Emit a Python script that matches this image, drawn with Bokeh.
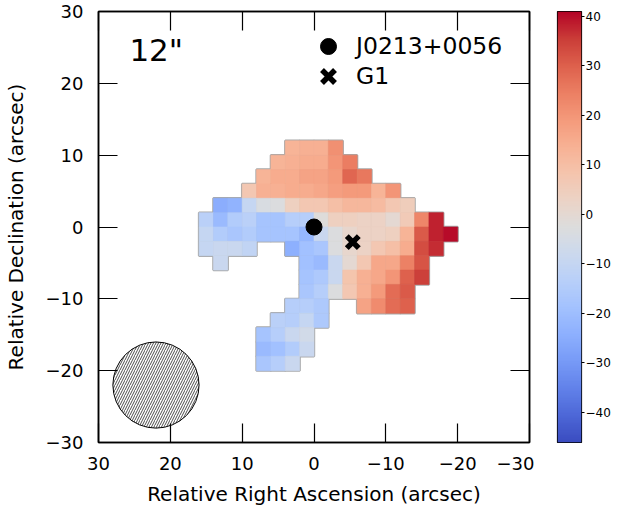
import numpy as np
from bokeh.plotting import figure
from bokeh.models import (Range1d, LinearAxis, FixedTicker, CustomJSTickFormatter,
                          LinearColorMapper, ColumnDataSource, Legend, LegendItem, Label)
from bokeh.layouts import row
from bokeh.transform import linear_cmap
from bokeh.embed import file_html
from bokeh.resources import INLINE

# ---------------- data ----------------
ra_centers = [15, 13, 11, 9, 7, 5, 3, 1, -1, -3, -5, -7, -9, -11, -13, -15, -17, -19]
dec_centers = [11, 9, 7, 5, 3, 1, -1, -3, -5, -7, -9, -11, -13, -15, -17, -19]
N = None
velocity = [
    [N, N, N, N, N, N, 13, 14, 14, 21, N, N, N, N, N, N, N, N],
    [N, N, N, N, N, 13, 14, 15, 15, 20, 25, N, N, N, N, N, N, N],
    [N, N, N, N, 13, 15, 15, 17, 17, 19, 29, 26, N, N, N, N, N, N],
    [N, N, N, 7, 14, 14, 15, 15, 16, 18, 19, 19, 13, 20, N, N, N, N],
    [N, -25, -23, -10, -4, -3, 4, 7, 7, 10, 12, 12, 11, 7, 5, N, N, N],
    [-13, -21, -15, -13, -18, -18, -14, -14, -2, 4, 4, 3, 3, 0, 6, 23, 38, N],
    [-10, -15, -17, -15, -18, -18, -18, -22, -9, -3, 1, 3, 3, 4, 13, 31, 38, 40],
    [-10, -9, -9, -11, N, N, -24, -19, -17, -3, 1, 3, 7, 10, 15, 33, 37, N],
    [N, -9, N, N, N, N, N, -19, -21, -9, 0, 7, 16, 16, 24, 32, N, N],
    [N, N, N, N, N, N, N, -18, -16, -9, 8, 14, 16, 20, 30, 35, N, N],
    [N, N, N, N, N, N, N, -17, -14, -3, 7, 14, 19, 28, 31, N, N, N],
    [N, N, N, N, N, N, -14, -14, -16, N, N, 17, 22, 28, 30, N, N, N],
    [N, N, N, N, N, -13, -14, -10, -16, N, N, N, N, N, N, N, N, N],
    [N, N, N, N, -18, -14, -9, -6, N, N, N, N, N, N, N, N, N, N],
    [N, N, N, N, -21, -19, -15, -9, N, N, N, N, N, N, N, N, N, N],
    [N, N, N, N, -17, -14, -9, N, N, N, N, N, N, N, N, N, N, N],
]
pixel_size = 2.0

source_name = "J0213+0056"
source_ra = [0.0]
source_dec = [0.0]
companion_name = "G1"
companion_ra = [-5.4]
companion_dec = [-2.1]

beam_label = '12"'
beam_ra = [22.0]
beam_dec = [-22.0]
beam_radius = 6.0

vel_min, vel_max = -46.1, 41.0
axis_ticks = [-30, -20, -10, 0, 10, 20, 30]
cbar_ticks = [-40, -30, -20, -10, 0, 10, 20, 30, 40]

# ---------------- colormap (matplotlib coolwarm anchors) ----------------
cw = [
    (0.2298, 0.2987, 0.7537), (0.3039, 0.4065, 0.8450), (0.3830, 0.5094, 0.9174),
    (0.4667, 0.6046, 0.9682), (0.5530, 0.6889, 0.9954), (0.6392, 0.7596, 0.9982),
    (0.7222, 0.8140, 0.9766), (0.7987, 0.8498, 0.9317), (0.8654, 0.8654, 0.8654),
    (0.9241, 0.8274, 0.7745), (0.9589, 0.7698, 0.6780), (0.9700, 0.6943, 0.5794),
    (0.9580, 0.6028, 0.4818), (0.9239, 0.4973, 0.3880), (0.8692, 0.3783, 0.3003),
    (0.7956, 0.2413, 0.2211), (0.7057, 0.0156, 0.1502),
]
cw = np.array(cw)
tk = np.linspace(0, 1, len(cw))
tt = np.linspace(0, 1, 256)
palette = []
for t in tt:
    r, g, b = (np.interp(t, tk, cw[:, i]) for i in range(3))
    palette.append("#%02x%02x%02x" % (int(round(r * 255)), int(round(g * 255)), int(round(b * 255))))

# ---------------- cells ----------------
xs, ys, vs = [], [], []
for j, dec in enumerate(dec_centers):
    for i, ra in enumerate(ra_centers):
        v = velocity[j][i]
        if v is not None:
            xs.append(ra)
            ys.append(dec)
            vs.append(v)
src = ColumnDataSource(dict(ra=xs, dec=ys, vel=vs))

FONT = "DejaVu Sans"
minus_fmt = CustomJSTickFormatter(code="return tick < 0 ? '\u2212' + (-tick) : '' + tick;")
blank_fmt = CustomJSTickFormatter(code="return '';")

H = 508
TOP = 11
FRAME_W = 432
FRAME_H = 431
LEFT = 97
p = figure(width=LEFT + FRAME_W + 5, height=H, x_range=Range1d(30, -30), y_range=Range1d(-30, 30),
           output_backend="svg", toolbar_location=None,
           min_border_left=LEFT, min_border_right=5, min_border_top=TOP,
           min_border_bottom=H - TOP - FRAME_H,
           x_axis_location=None, y_axis_location=None)
p.grid.visible = False
p.outline_line_color = "black"
p.outline_line_width = 1.5
p.background_fill_color = "white"
p.border_fill_color = "white"

cmap = linear_cmap("vel", palette, vel_min, vel_max)
p.rect(x="ra", y="dec", width=pixel_size, height=pixel_size, source=src,
       fill_color="#a8a8a8", line_color="#a8a8a8", line_width=2.4)
p.rect(x="ra", y="dec", width=pixel_size, height=pixel_size, source=src,
       fill_color=cmap, line_color=cmap, line_width=0.6)

p.circle(x=beam_ra, y=beam_dec, radius=beam_radius, fill_color="white",
         line_color="black", line_width=1, hatch_pattern="/", hatch_color="black",
         hatch_scale=5, hatch_weight=0.7)

r_src = p.scatter(x=source_ra, y=source_dec, marker="circle", size=16,
                  fill_color="black", line_color="black")
r_g1 = p.scatter(x=companion_ra, y=companion_dec, marker="x", size=17,
                 line_color="black", line_width=5.5)


def make_axis(show_labels):
    ax = LinearAxis(ticker=FixedTicker(ticks=axis_ticks),
                    formatter=minus_fmt if show_labels else blank_fmt)
    ax.major_tick_in = 19
    ax.major_tick_out = 0
    ax.minor_tick_line_color = None
    ax.major_tick_line_color = "black"
    ax.major_tick_line_width = 1.2
    ax.axis_line_color = "black"
    ax.axis_line_width = 1.5
    ax.major_label_text_font = FONT
    ax.major_label_text_color = "black"
    ax.major_label_text_font_size = "18px"
    ax.axis_label_text_font = FONT
    ax.axis_label_text_font_style = "normal"
    ax.axis_label_text_color = "black"
    ax.axis_label_text_font_size = "20px"
    if not show_labels:
        ax.major_label_standoff = 0
    return ax


ax_b = make_axis(True)
ax_b.axis_label = "Relative Right Ascension (arcsec)"
ax_b.major_label_standoff = 14
ax_b.axis_label_standoff = 9
ax_l = make_axis(True)
ax_l.axis_label = "Relative Declination (arcsec)"
ax_l.major_label_standoff = 15
ax_l.axis_label_standoff = 15
p.add_layout(ax_b, "below")
p.add_layout(ax_l, "left")
p.add_layout(make_axis(False), "above")
p.add_layout(make_axis(False), "right")

p.add_layout(Label(x=25.7, y=24.6, text=beam_label, text_font=FONT, text_font_size="31px",
                   text_align="left", text_baseline="alphabetic", text_color="black"))


def make_legend(item, renderer, loc, box, standoff):
    lg = Legend(items=[LegendItem(label=item, renderers=[renderer])], location=loc)
    lg.glyph_width = box
    lg.glyph_height = box
    lg.label_standoff = standoff
    lg.padding = 0
    lg.margin = 0
    lg.spacing = 0
    lg.border_line_color = None
    lg.background_fill_alpha = 0
    lg.label_text_font = FONT
    lg.label_text_font_size = "23.5px"
    lg.label_text_color = "black"
    return lg


p.add_layout(make_legend(source_name, r_src, (210, 376), 40, 8))
p.add_layout(make_legend(companion_name, r_g1, (207, 343), 46, 5))

# ---------------- colorbar ----------------
mapper = LinearColorMapper(palette=palette, low=vel_min, high=vel_max)
grad = np.linspace(vel_min, vel_max, 256).reshape(256, 1)
cb = figure(width=99, height=H, x_range=Range1d(0, 1), y_range=Range1d(vel_min, vel_max),
            output_backend="svg", toolbar_location=None,
            min_border_left=23, min_border_right=52, min_border_top=TOP,
            min_border_bottom=H - TOP - FRAME_H,
            x_axis_location=None, y_axis_location=None)
cb.grid.visible = False
cb.image(image=[grad], x=0, y=vel_min, dw=1, dh=vel_max - vel_min, color_mapper=mapper)
cb.outline_line_color = "black"
cb.outline_line_width = 1.2
cb.border_fill_color = "white"
cax = LinearAxis(ticker=FixedTicker(ticks=cbar_ticks), formatter=minus_fmt)
cax.major_tick_in = 0
cax.major_tick_out = 3
cax.minor_tick_line_color = None
cax.axis_line_color = None
cax.major_tick_line_color = "black"
cax.major_label_text_font = FONT
cax.major_label_text_font_size = "12px"
cax.major_label_standoff = 1
cax.major_label_text_color = "black"
cb.add_layout(cax, "right")
cb.add_layout(Label(x=2.625, y=-0.8, text="Velocity, km/s", angle=np.pi / 2,
                    text_font=FONT, text_font_size="16px", text_align="center",
                    text_baseline="middle", text_color="black"))

layout = row(p, cb)
open("out.html", "w").write(file_html(layout, INLINE))
